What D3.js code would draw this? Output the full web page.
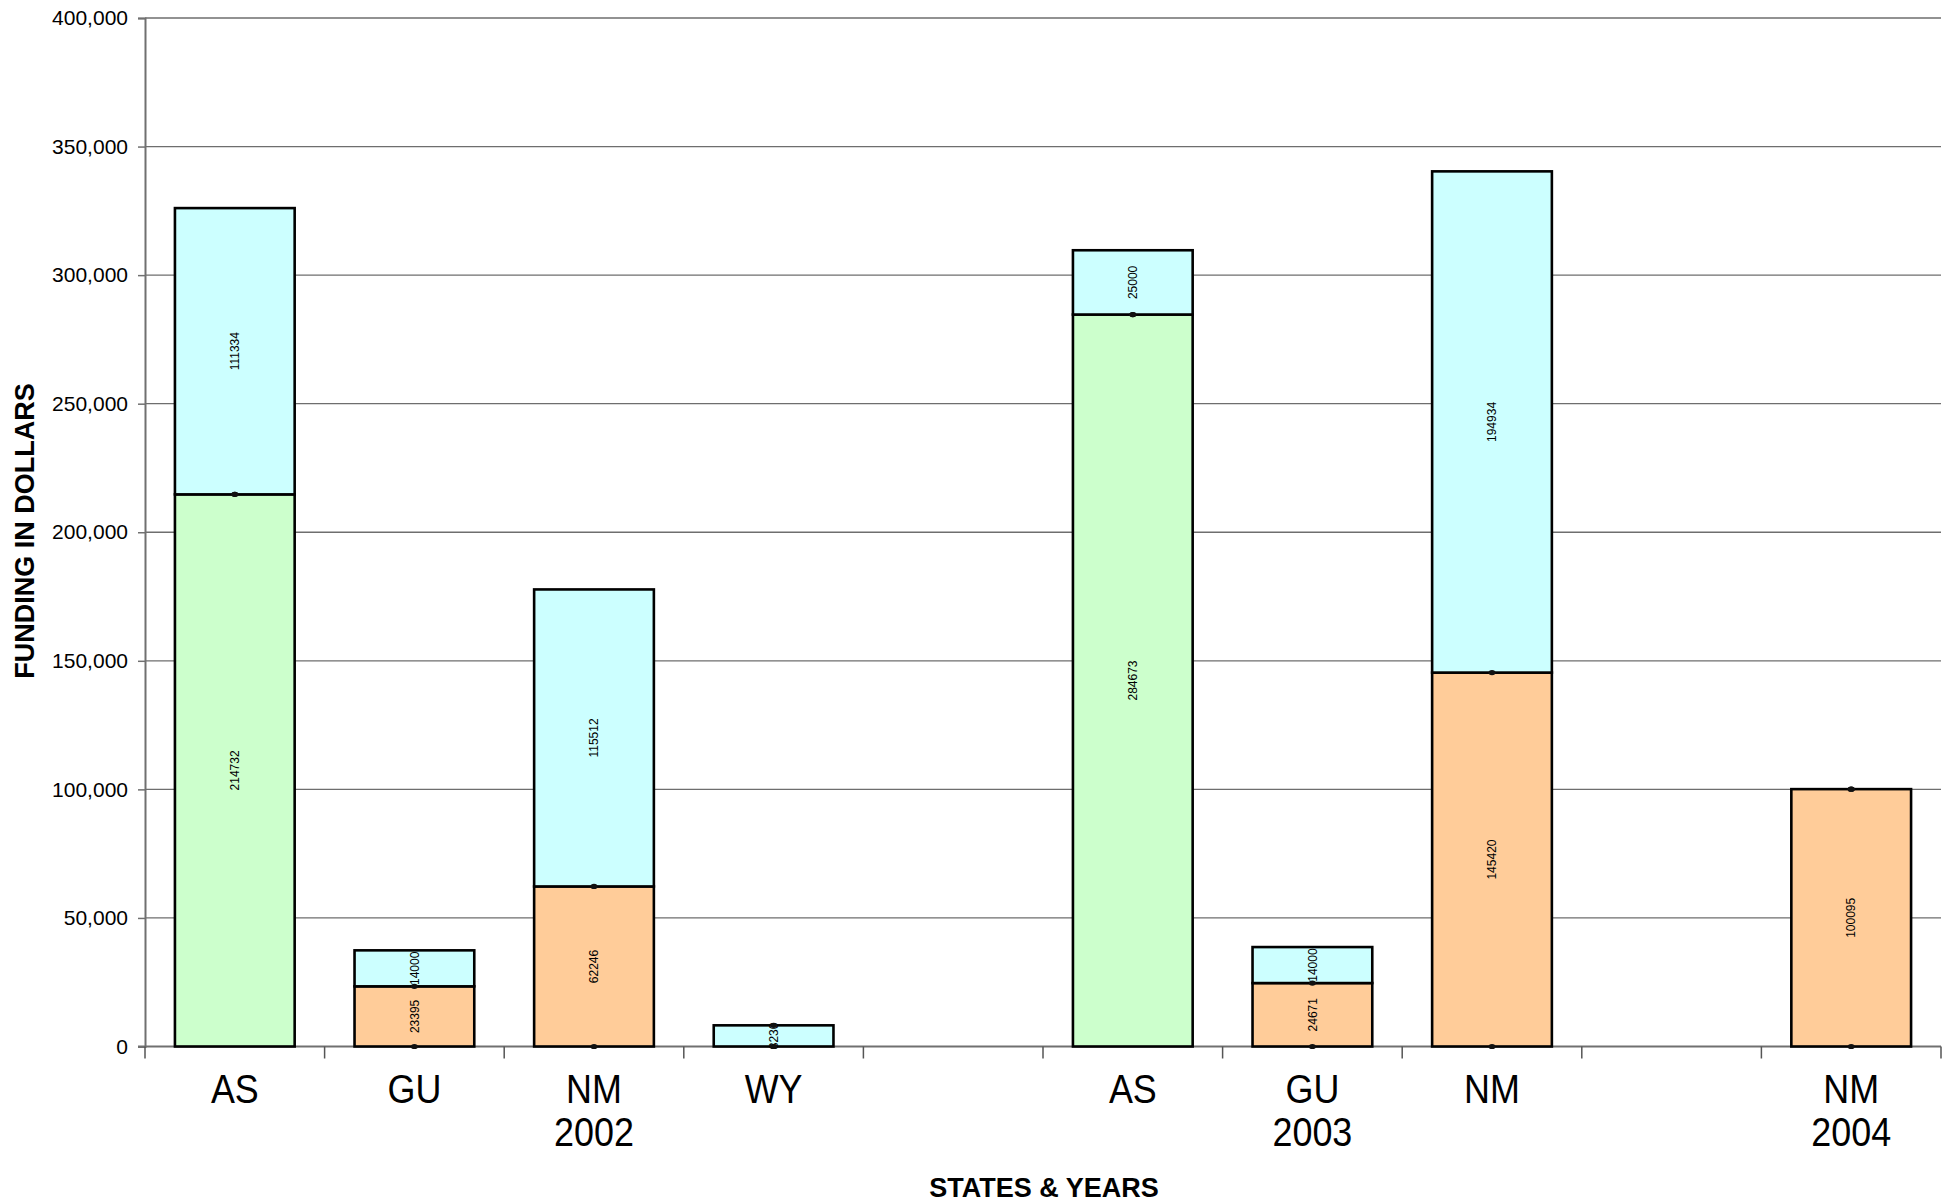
<!DOCTYPE html>
<html>
<head>
<meta charset="utf-8">
<script src="https://cdn.jsdelivr.net/npm/d3@7"></script>
<style>
  html, body { margin: 0; padding: 0; background: #fff; }
  svg { display: block; font-family: Arial, "Liberation Sans", Helvetica, sans-serif; }
</style>
</head>
<body>
<svg id="chart" width="1950" height="1204"></svg>
<script>
// ---- Data ----
const states = ["AS", "GU", "NM", "WY", "", "AS", "GU", "NM", "", "NM"];
const years = ["", "", "2002", "", "", "", "2003", "", "", "2004"];
// stacked series (bottom to top)
const greenVals  = [214732, 0, 0, 0, null, 284673, 0, 0, null, 0];
const orangeVals = [0, 23395, 62246, 0, null, 0, 24671, 145420, null, 100095];
const cyanAVals  = [0, 0, 0, 8230, null, 0, 0, 0, null, 0];
const cyanBVals  = [111334, 14000, 115512, 0, null, 25000, 14000, 194934, null, 0];
const yTicks = [0, 50000, 100000, 150000, 200000, 250000, 300000, 350000, 400000];

const seriesList = [
  { vals: greenVals,  color: "#CCFFCC" },
  { vals: orangeVals, color: "#FFCC99" },
  { vals: cyanAVals,  color: "#CCFFFF" },
  { vals: cyanBVals,  color: "#CCFFFF" }
];

// ---- Layout ----
const pLeft = 145, pRight = 1941, pTop = 18, pBottom = 1046.5;
const svg = d3.select("#chart");

const x = d3.scaleBand()
  .domain(d3.range(states.length))
  .range([pLeft, pRight])
  .paddingInner(1/3)
  .paddingOuter(1/6);
const y = d3.scaleLinear().domain([0, 400000]).range([pBottom, pTop]);

// gridlines
svg.append("g").selectAll("line").data(yTicks.filter(d => d > 0)).join("line")
  .attr("x1", pLeft).attr("x2", pRight)
  .attr("y1", d => y(d)).attr("y2", d => y(d))
  .attr("stroke", "#6e6e6e").attr("stroke-width", 1.3);

// y axis
const yAxis = d3.axisLeft(y).tickValues(yTicks).tickSize(7).tickPadding(10)
  .tickFormat(d3.format(","));
const ya = svg.append("g").attr("transform", `translate(${pLeft},0)`).call(yAxis);
ya.select(".domain").attr("stroke", "#707070").attr("stroke-width", 2);
ya.selectAll(".tick line").attr("stroke", "#707070").attr("stroke-width", 1.5);
ya.selectAll(".tick text").attr("font-size", 21).attr("fill", "#000")
  .attr("font-family", "Arial, 'Liberation Sans', sans-serif");

// x axis line and ticks
svg.append("line").attr("x1", pLeft - 7).attr("x2", pRight)
  .attr("y1", pBottom).attr("y2", pBottom)
  .attr("stroke", "#707070").attr("stroke-width", 2);
const bounds = d3.range(states.length + 1).map(j => pLeft + j * x.step());
svg.append("g").selectAll("line").data(bounds).join("line")
  .attr("x1", d => d).attr("x2", d => d)
  .attr("y1", pBottom).attr("y2", pBottom + 12)
  .attr("stroke", "#555").attr("stroke-width", 1.5);

// stacked bars
const segs = [];
states.forEach((s, i) => {
  let base = 0;
  seriesList.forEach((ser, k) => {
    const v = ser.vals[i];
    if (v === null) return;
    segs.push({ i, k, y0: base, y1: base + v, v, color: ser.color });
    base += v;
  });
});

const gBars = svg.append("g");
gBars.selectAll("rect").data(segs.filter(d => d.v > 0)).join("rect")
  .attr("x", d => x(d.i))
  .attr("width", x.bandwidth())
  .attr("y", d => y(d.y1))
  .attr("height", d => y(d.y0) - y(d.y1))
  .attr("fill", d => d.color)
  .attr("stroke", "#000")
  .attr("stroke-width", 2.6);

// data labels (rotated)
const gLab = svg.append("g");
gLab.selectAll("text").data(segs.filter(d => d.v > 0)).join("text")
  .attr("transform", d => `translate(${x(d.i) + x.bandwidth() / 2},${y((d.y0 + d.y1) / 2)}) rotate(-90)`)
  .attr("text-anchor", "middle")
  .attr("dy", "0.35em")
  .attr("font-size", 12)
  .attr("fill", "#000")
  .text(d => d.v);

// zero-value labels appear as tiny dots
gLab.selectAll("ellipse").data(segs.filter(d => d.v === 0)).join("ellipse")
  .attr("cx", d => x(d.i) + x.bandwidth() / 2)
  .attr("cy", d => y(d.y0))
  .attr("rx", 3.5).attr("ry", 2.6)
  .attr("fill", "#111");

// category labels (slightly tall, as in the original)
const gX = svg.append("g").attr("font-size", 37).attr("fill", "#000").attr("text-anchor", "middle");
gX.selectAll("text.st").data(states.map((s, i) => ({ s, i }))).join("text")
  .attr("class", "st")
  .attr("transform", d => `translate(${x(d.i) + x.bandwidth() / 2},1103) scale(0.97,1.1)`)
  .text(d => d.s);
gX.selectAll("text.yr").data(years.map((s, i) => ({ s, i }))).join("text")
  .attr("class", "yr")
  .attr("transform", d => `translate(${x(d.i) + x.bandwidth() / 2},1146) scale(0.97,1.1)`)
  .text(d => d.s);

// axis titles
svg.append("text")
  .attr("x", 1044).attr("y", 1197)
  .attr("text-anchor", "middle")
  .attr("font-size", 27).attr("font-weight", "bold")
  .text("STATES & YEARS");
svg.append("text")
  .attr("transform", "translate(34,531) rotate(-90)")
  .attr("text-anchor", "middle")
  .attr("font-size", 27).attr("font-weight", "bold")
  .text("FUNDING IN DOLLARS");
</script>
</body>
</html>
